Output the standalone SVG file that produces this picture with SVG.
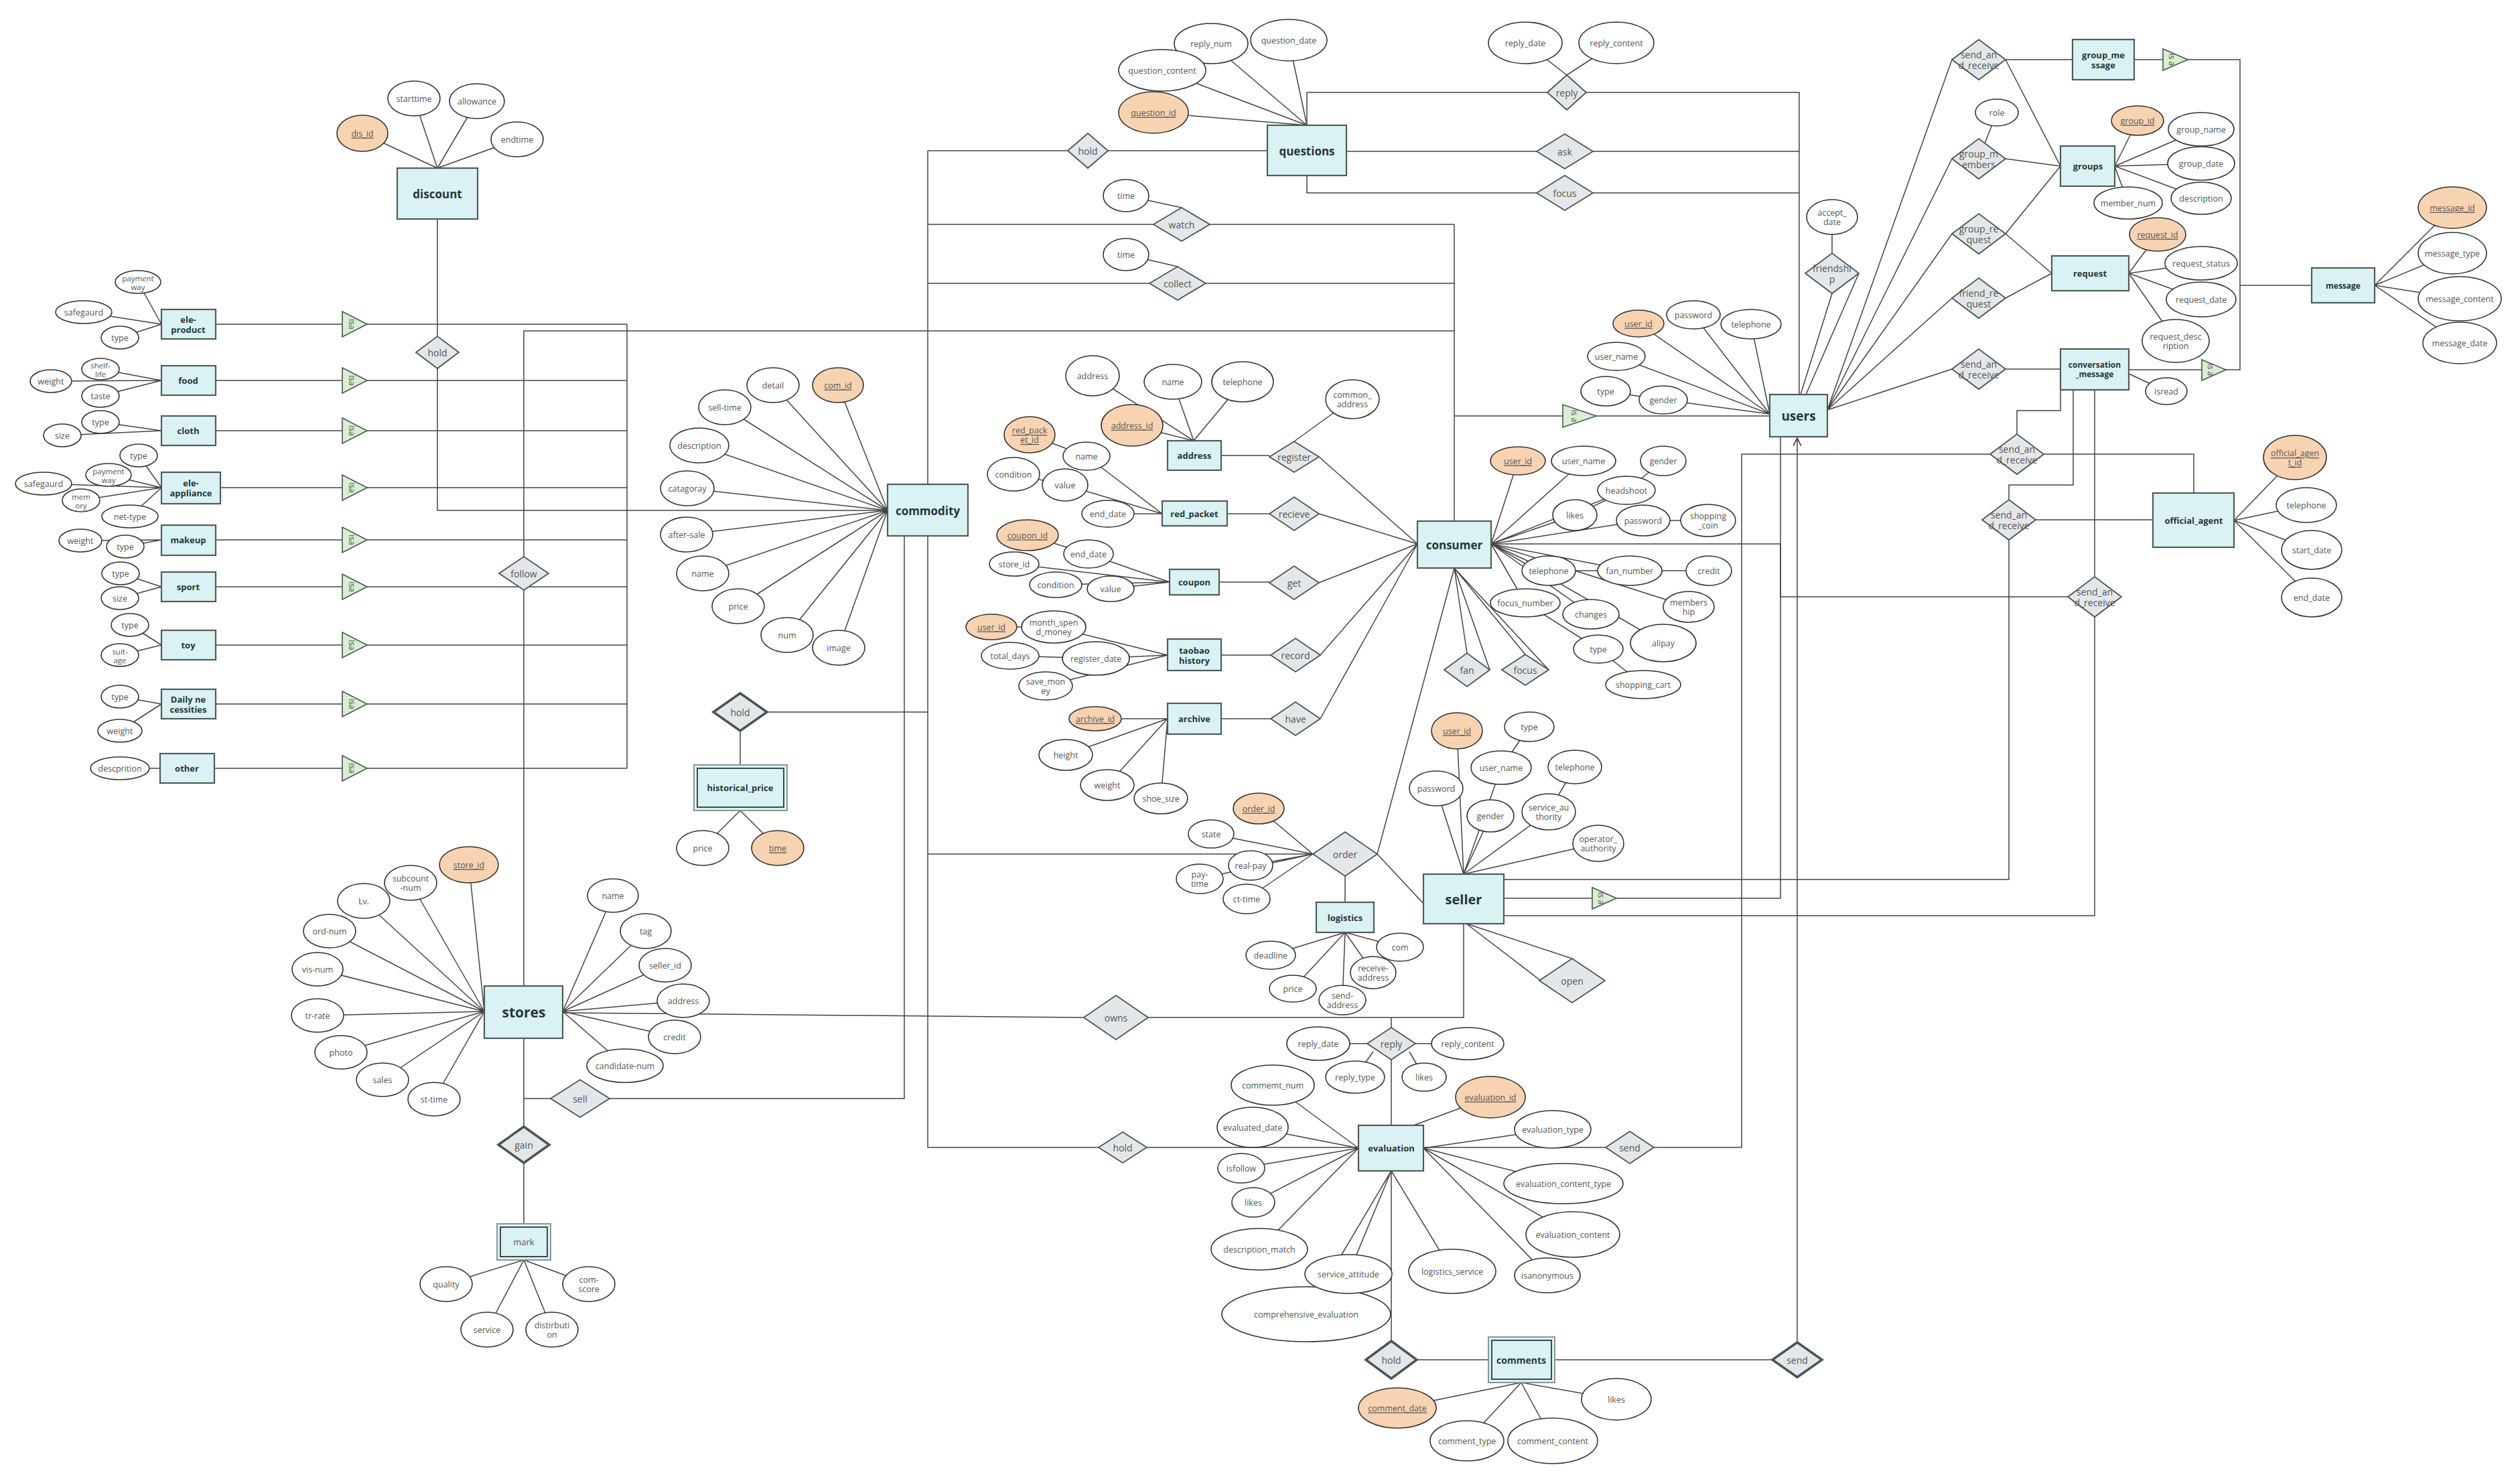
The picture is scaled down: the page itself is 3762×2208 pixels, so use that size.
<svg xmlns="http://www.w3.org/2000/svg" width="3762" height="2208" viewBox="0 0 3762 2208">
<style>
text{font-family:"Open Sans","Noto Sans","Liberation Sans",sans-serif;text-anchor:middle;dominant-baseline:central}
.e{fill:#daf2f3;stroke:#505b5e;stroke-width:2.2}
.w{fill:#daf2f3;stroke:#8a9799;stroke-width:2}
.wi{fill:none;stroke:#3f4a4c;stroke-width:2}
.et{font-weight:bold;fill:#27363a;font-size:13px}
.big{font-size:17px}
.a{fill:#fff;stroke:#333;stroke-width:1.6}
.k{fill:#f7d3b1;stroke:#333;stroke-width:1.6}
.at{font-size:12.5px;fill:#555}
.u{text-decoration:underline}
.r{fill:#e3e7ea;stroke:#4a5356;stroke-width:1.8}
.rb{fill:#e3e7ea;stroke:#4a5356;stroke-width:3.5}
.rt{font-size:14px;fill:#555}
.i{fill:#d8efd1;stroke:#4a5356;stroke-width:1.6}
.it{font-size:12px;fill:#555}
.c{fill:none;stroke:#444;stroke-width:1.5}
</style>
<defs>
<marker id="arr" viewBox="0 0 12 12" refX="11" refY="6" markerWidth="14" markerHeight="14" markerUnits="userSpaceOnUse" orient="auto"><path d="M1,1 L11,6 L1,11" fill="none" stroke="#444" stroke-width="1.5"/></marker>
</defs>
<rect width="3762" height="2208" fill="#fff"/>
<g id="connectors" class="c">
<!-- left attributes -->
<path d="M206 421L241 484M125 466L241 484M179 504L241 484"/>
<path d="M150 551L241 568M76 569L241 568M150 591L241 568"/>
<path d="M150 630L241 643M93 650L241 643"/>
<path d="M207 680L241 728M162 709L241 728M65 722L241 728M121 747L241 728M194 771L241 728"/>
<path d="M120 807L241 806M187 816L241 806"/>
<path d="M180 856L241 876M179 893L241 876"/>
<path d="M194 933L241 963M179 978L241 963"/>
<path d="M179 1040L241 1051M179 1091L241 1051"/>
<path d="M179 1147L239 1147"/>
<!-- isa lines -->
<path d="M322 484H511M548 484H936M322 568H511M548 568H936M322 643H511M548 643H936M329 728H511M548 728H936M322 806H511M548 806H936M322 876H511M548 876H936M322 963H511M548 963H936M322 1051H511M548 1051H936M320 1147H511M548 1147H936M936 484V1147"/>
<!-- discount -->
<path d="M541 199L653 251M618 147L653 251M712 151L653 251M772 208L653 251M653 327V762H1325"/>
<!-- follow -->
<path d="M782 1472V494H2171"/>
<!-- commodity attributes -->
<path d="M1154 575L1325 762M1251 575L1325 762M1082 608L1325 762M1044 665L1325 762M1026 729L1325 762M1025 798L1325 762M1049 856L1325 762M1102 905L1325 762M1175 948L1325 762M1252 967L1325 762"/>
<path d="M1385 225V723M1385 225H1892M1385 335H2171M1385 423H2171M2171 335V778M1681 292L1764 310M1681 380L1758 398"/>
<path d="M1385 800V1713H2028M1385 1063H1105V1142M1105 1210L1049 1266M1105 1210L1161 1266M1385 1275H1960M1350 800V1640H782"/>
<!-- questions -->
<path d="M1808 65L1951 187M1924 60L1951 187M1735 105L1951 187M1722 168L1951 187"/>
<path d="M1951 187V138H2686V589M2010 226H2686M1951 262V288H2686M2339 112L2277 64M2339 112L2413 64"/>
<!-- users -->
<path d="M2171 621H2333M2383 621H2642"/>
<path d="M2446 483L2642 618M2528 470L2642 618M2614 484L2642 618M2413 532L2642 618M2483 597L2642 618M2397 584L2483 597"/>
<path d="M2735 324V408M2735 438L2688 589M2775 408L2696 589"/>
<path d="M2728 612L2914 89M2728 612L2914 237M2728 612L2914 349M2728 612L2914 445M2728 612L2914 551"/>
<path d="M2994 89H3094M2994 89L3076 248M2981 168L2954 237M2994 237L3076 248M2994 349L3076 248M2994 349L3063 408M2994 445L3063 408M2994 551H3076"/>
<path d="M3186 89H3229M3266 89H3344V552H3323M3178 552H3287M3344 426H3451"/>
<path d="M3191 180L3157 248M3286 193L3157 248M3286 244L3157 248M3286 296L3157 248M3177 303L3157 248"/>
<path d="M3221 350L3178 408M3286 393L3178 408M3286 447L3178 408M3248 509L3178 408M3178 558L3234 584"/>
<path d="M3661 310L3545 426M3661 378L3545 426M3672 446L3545 426M3672 512L3545 426"/>
<!-- official agent / send and receive -->
<path d="M3076 582V613H3011V678M3051 678H3275V736M2971 678H2600V1713H2469M2397 1713H2125"/>
<path d="M3095 582V724H2999V776M3039 776H3214M2999 806V1313H2245"/>
<path d="M3127 582V891M3087 891H2658V812H2226M3127 921V1367H2245"/>
<path d="M2658 652V1341H2413M2245 1341H2377"/>
<path d="M3426 683L3335 777M3443 754L3335 777M3451 821L3335 777M3451 892L3335 777"/>
<path d="M2683 2004V654" marker-end="url(#arr)"/>
<path d="M2321 2030H2646M2115 2030H2222M2077 1748V2002"/>
<!-- consumer relations -->
<path d="M1823 680H1895M1969 682L2116 812M2019 596L1932 659M1832 767H1895M1969 767L2116 812M1820 869H1895M1969 870L2116 812M1823 978H1897M1971 978L2116 812M1823 1073H1897M1971 1073L2116 812"/>
<path d="M1631 561L1782 658M1751 570L1782 658M1855 570L1782 658M1690 635L1782 658"/>
<path d="M1537 649L1622 681M1622 681L1735 767M1513 708L1590 724M1590 724L1735 767M1654 767H1735"/>
<path d="M1534 799L1625 827M1625 827L1746 869M1514 842L1746 869M1576 873L1746 869M1658 879L1746 869"/>
<path d="M1480 936H1573M1573 936L1743 978M1508 979L1636 983M1636 983L1743 978M1561 1024L1743 978"/>
<path d="M1635 1073H1743M1591 1127L1743 1073M1653 1172L1743 1073M1733 1192L1743 1073"/>
<!-- consumer attributes -->
<path d="M2226 812L2266 688M2226 812L2364 688M2226 812L2428 732M2226 812L2351 769M2226 812L2453 777M2226 812L2312 852M2226 812L2433 852M2226 812L2521 906M2226 812L2483 960M2226 812L2277 900M2226 812L2375 917"/>
<path d="M2483 688L2428 732M2428 732L2351 769M2453 777L2550 777M2312 852L2433 852M2433 852L2551 852M2277 900L2386 969M2386 969L2453 1022"/>
<path d="M2171 848L2190 975M2171 848L2224 1000M2171 848L2277 977M2171 848L2312 1000"/>
<!-- order / logistics -->
<path d="M2056 1275L2171 848M2056 1275L2125 1349M2008 1308V1347"/>
<path d="M1879 1207L1960 1275M1808 1245L1960 1275M1867 1292L1960 1275M1791 1312L1960 1275M1861 1342L1960 1275"/>
<path d="M1897 1426L2008 1392M2090 1414L2008 1392M2050 1452L2008 1392M1930 1476L2008 1392M2004 1493L2008 1392"/>
<!-- seller -->
<path d="M2175 1091L2185 1305M2144 1177L2185 1305M2225 1218L2185 1305M2241 1146L2185 1305M2312 1212L2185 1305M2386 1259L2185 1305M2283 1085L2241 1146M2351 1145L2312 1212"/>
<path d="M2189 1379L2300 1464M2189 1379L2347 1431"/>
<path d="M2185 1379V1519H1714M1618 1519L840 1512M2077 1519V1534M2077 1582V1680"/>
<path d="M1968 1558H2041M2113 1558H2191M2050 1570L2023 1608M2104 1570L2126 1608"/>
<!-- evaluation -->
<path d="M1900 1620L2028 1714M1870 1683L2028 1714M1853 1744L2028 1714M1871 1795L2028 1714M1880 1865L2028 1714"/>
<path d="M1950 1962L2077 1748M2013 1902L2077 1748M2168 1898L2077 1748"/>
<path d="M2318 1686L2125 1714M2334 1767L2125 1714M2348 1843L2125 1714M2310 1904L2125 1714M2225 1638L2110 1680"/>
<path d="M2086 2102L2271 2064M2190 2151L2271 2064M2318 2151L2271 2064M2413 2089L2271 2064"/>
<!-- stores -->
<path d="M700 1291L723 1510M613 1318L723 1510M543 1345L723 1510M492 1390L723 1510M474 1447L723 1510M474 1516L723 1510M509 1571L723 1510M571 1612L723 1510M648 1641L723 1510"/>
<path d="M915 1337L840 1510M964 1390L840 1510M993 1441L840 1510M1020 1494L840 1510M1007 1548L840 1510M933 1591L840 1510"/>
<path d="M782 1550V1682M782 1736V1827M666 1917L782 1881M727 1985L782 1881M824 1985L782 1881M879 1917L782 1881"/>
</g>

<!-- ===== relations ===== -->
<g id="r-hold-discount"><polygon class="r" points="621,526 653,502 685,526 653,550"/><text class="rt" x="653" y="526">hold</text></g>
<g id="r-follow"><polygon class="r" points="745,856 782,831 819,856 782,881"/><text class="rt" x="782" y="856">follow</text></g>
<g id="r-hold-question"><polygon class="r" points="1594,225 1624,199 1654,225 1624,251"/><text class="rt" x="1624" y="225">hold</text></g>
<g id="r-watch"><polygon class="r" points="1722,335 1764,310 1806,335 1764,360"/><text class="rt" x="1764" y="335">watch</text></g>
<g id="r-collect"><polygon class="r" points="1716,423 1758,398 1800,423 1758,448"/><text class="rt" x="1758" y="423">collect</text></g>
<g id="r-reply-q"><polygon class="r" points="2310,138 2339,112 2368,138 2339,164"/><text class="rt" x="2339" y="138">reply</text></g>
<g id="r-ask"><polygon class="r" points="2294,226 2336,200 2378,226 2336,252"/><text class="rt" x="2336" y="226">ask</text></g>
<g id="r-focus-q"><polygon class="r" points="2294,288 2336,262 2378,288 2336,314"/><text class="rt" x="2336" y="288">focus</text></g>
<g id="r-friendship"><polygon class="r" points="2695,408 2735,378 2775,408 2735,438"/><text class="rt" x="2735" y="408"><tspan x="2735" dy="-0.55em">friendshi</tspan><tspan x="2735" dy="1.1em">p</tspan></text></g>
<g id="r-sr1"><polygon class="r" points="2914,89 2954,59 2994,89 2954,119"/><text class="rt" x="2954" y="89"><tspan x="2954" dy="-0.55em">send_an</tspan><tspan x="2954" dy="1.1em">d_receive</tspan></text></g>
<g id="r-group-members"><polygon class="r" points="2914,237 2954,207 2994,237 2954,267"/><text class="rt" x="2954" y="237"><tspan x="2954" dy="-0.55em">group_m</tspan><tspan x="2954" dy="1.1em">embers</tspan></text></g>
<g id="r-group-request"><polygon class="r" points="2914,349 2954,319 2994,349 2954,379"/><text class="rt" x="2954" y="349"><tspan x="2954" dy="-0.55em">group_re</tspan><tspan x="2954" dy="1.1em">quest</tspan></text></g>
<g id="r-friend-request"><polygon class="r" points="2914,445 2954,415 2994,445 2954,475"/><text class="rt" x="2954" y="445"><tspan x="2954" dy="-0.55em">friend_re</tspan><tspan x="2954" dy="1.1em">quest</tspan></text></g>
<g id="r-sr2"><polygon class="r" points="2914,551 2954,521 2994,551 2954,581"/><text class="rt" x="2954" y="551"><tspan x="2954" dy="-0.55em">send_an</tspan><tspan x="2954" dy="1.1em">d_receive</tspan></text></g>
<g id="r-sr3"><polygon class="r" points="2971,678 3011,648 3051,678 3011,708"/><text class="rt" x="3011" y="678"><tspan x="3011" dy="-0.55em">send_an</tspan><tspan x="3011" dy="1.1em">d_receive</tspan></text></g>
<g id="r-sr4"><polygon class="r" points="2959,776 2999,746 3039,776 2999,806"/><text class="rt" x="2999" y="776"><tspan x="2999" dy="-0.55em">send_an</tspan><tspan x="2999" dy="1.1em">d_receive</tspan></text></g>
<g id="r-sr5"><polygon class="r" points="3087,891 3127,861 3167,891 3127,921"/><text class="rt" x="3127" y="891"><tspan x="3127" dy="-0.55em">send_an</tspan><tspan x="3127" dy="1.1em">d_receive</tspan></text></g>
<g id="r-register"><polygon class="r" points="1895,682 1932,659 1969,682 1932,705"/><text class="rt" x="1932" y="682">register</text></g>
<g id="r-recieve"><polygon class="r" points="1895,767 1932,742 1969,767 1932,792"/><text class="rt" x="1932" y="767">recieve</text></g>
<g id="r-get"><polygon class="r" points="1895,870 1932,845 1969,870 1932,895"/><text class="rt" x="1932" y="870">get</text></g>
<g id="r-record"><polygon class="r" points="1897,978 1934,953 1971,978 1934,1003"/><text class="rt" x="1934" y="978">record</text></g>
<g id="r-have"><polygon class="r" points="1897,1073 1934,1048 1971,1073 1934,1098"/><text class="rt" x="1934" y="1073">have</text></g>
<g id="r-fan"><polygon class="r" points="2156,1000 2190,975 2224,1000 2190,1025"/><text class="rt" x="2190" y="1000">fan</text></g>
<g id="r-focus-c"><polygon class="r" points="2242,1000 2277,977 2312,1000 2277,1023"/><text class="rt" x="2277" y="1000">focus</text></g>
<g id="r-order"><polygon class="r" points="1960,1275 2008,1242 2056,1275 2008,1308"/><text class="rt" x="2008" y="1275">order</text></g>
<g id="r-open"><polygon class="r" points="2298,1464 2347,1431 2396,1464 2347,1497"/><text class="rt" x="2347" y="1464">open</text></g>
<g id="r-owns"><polygon class="r" points="1618,1519 1666,1486 1714,1519 1666,1552"/><text class="rt" x="1666" y="1519">owns</text></g>
<g id="r-reply-e"><polygon class="r" points="2041,1558 2077,1534 2113,1558 2077,1582"/><text class="rt" x="2077" y="1558">reply</text></g>
<g id="r-hold-eval"><polygon class="r" points="1640,1713 1676,1690 1712,1713 1676,1736"/><text class="rt" x="1676" y="1713">hold</text></g>
<g id="r-send-eval"><polygon class="r" points="2397,1713 2433,1689 2469,1713 2433,1737"/><text class="rt" x="2433" y="1713">send</text></g>
<g id="r-hold-comments"><polygon class="rb" points="2039,2030 2077,2002 2115,2030 2077,2058"/><text class="rt" x="2077" y="2030">hold</text></g>
<g id="r-send-comments"><polygon class="rb" points="2646,2030 2683,2004 2720,2030 2683,2056"/><text class="rt" x="2683" y="2030">send</text></g>
<g id="r-hold-price"><polygon class="rb" points="1065,1063 1105,1035 1145,1063 1105,1091"/><text class="rt" x="1105" y="1063">hold</text></g>
<g id="r-sell"><polygon class="r" points="822,1640 866,1612 910,1640 866,1668"/><text class="rt" x="866" y="1640">sell</text></g>
<g id="r-gain"><polygon class="rb" points="744,1709 782,1682 820,1709 782,1736"/><text class="rt" x="782" y="1709">gain</text></g>

<!-- ===== isa ===== -->
<g id="isa-ele-product"><polygon class="i" points="511,465 511,503 548,484"/><text class="it" transform="translate(525 484) rotate(90)">isa</text></g>
<g id="isa-food"><polygon class="i" points="511,549 511,587 548,568"/><text class="it" transform="translate(525 568) rotate(90)">isa</text></g>
<g id="isa-cloth"><polygon class="i" points="511,624 511,662 548,643"/><text class="it" transform="translate(525 643) rotate(90)">isa</text></g>
<g id="isa-ele-appliance"><polygon class="i" points="511,709 511,747 548,728"/><text class="it" transform="translate(525 728) rotate(90)">isa</text></g>
<g id="isa-makeup"><polygon class="i" points="511,787 511,825 548,806"/><text class="it" transform="translate(525 806) rotate(90)">isa</text></g>
<g id="isa-sport"><polygon class="i" points="511,857 511,895 548,876"/><text class="it" transform="translate(525 876) rotate(90)">isa</text></g>
<g id="isa-toy"><polygon class="i" points="511,944 511,982 548,963"/><text class="it" transform="translate(525 963) rotate(90)">isa</text></g>
<g id="isa-daily"><polygon class="i" points="511,1032 511,1070 548,1051"/><text class="it" transform="translate(525 1051) rotate(90)">isa</text></g>
<g id="isa-other"><polygon class="i" points="511,1128 511,1166 548,1147"/><text class="it" transform="translate(525 1147) rotate(90)">isa</text></g>
<g id="isa-consumer"><polygon class="i" points="2333,604 2333,638 2383,621"/><text class="it" transform="translate(2350 621) rotate(90)">is a</text></g>
<g id="isa-group-message"><polygon class="i" points="3229,73 3229,105 3266,89"/><text class="it" transform="translate(3242 89) rotate(90)">is a</text></g>
<g id="isa-conversation"><polygon class="i" points="3287,537 3287,568 3323,552"/><text class="it" transform="translate(3300 552) rotate(90)">is a</text></g>
<g id="isa-seller"><polygon class="i" points="2377,1325 2377,1357 2413,1341"/><text class="it" transform="translate(2390 1341) rotate(90)">is a</text></g>

<!-- ===== entities ===== -->
<g id="e-discount"><rect class="e" x="593" y="251" width="120" height="76"/><text class="et big" x="653" y="289">discount</text></g>
<g id="e-ele-product"><rect class="e" x="241" y="462" width="81" height="44"/><text class="et" x="281" y="484"><tspan x="281" dy="-0.55em">ele-</tspan><tspan x="281" dy="1.15em">product</tspan></text></g>
<g id="e-food"><rect class="e" x="241" y="546" width="81" height="44"/><text class="et" x="281" y="568">food</text></g>
<g id="e-cloth"><rect class="e" x="241" y="621" width="81" height="44"/><text class="et" x="281" y="643">cloth</text></g>
<g id="e-ele-appliance"><rect class="e" x="241" y="705" width="88" height="47"/><text class="et" x="285" y="728"><tspan x="285" dy="-0.55em">ele-</tspan><tspan x="285" dy="1.15em">appliance</tspan></text></g>
<g id="e-makeup"><rect class="e" x="241" y="784" width="81" height="45"/><text class="et" x="281" y="806">makeup</text></g>
<g id="e-sport"><rect class="e" x="241" y="854" width="81" height="44"/><text class="et" x="281" y="876">sport</text></g>
<g id="e-toy"><rect class="e" x="241" y="941" width="81" height="44"/><text class="et" x="281" y="963">toy</text></g>
<g id="e-daily"><rect class="e" x="241" y="1029" width="81" height="44"/><text class="et" x="281" y="1051"><tspan x="281" dy="-0.55em">Daily ne</tspan><tspan x="281" dy="1.15em">cessities</tspan></text></g>
<g id="e-other"><rect class="e" x="239" y="1125" width="81" height="44"/><text class="et" x="279" y="1147">other</text></g>
<g id="e-commodity"><rect class="e" x="1325" y="723" width="120" height="77"/><text class="et big" x="1385" y="762">commodity</text></g>
<g id="e-historical-price"><rect class="w" x="1036" y="1142" width="139" height="68"/><rect class="wi" x="1041" y="1147" width="129" height="58"/><text class="et" x="1105" y="1176">historical_price</text></g>
<g id="e-questions"><rect class="e" x="1892" y="187" width="118" height="75"/><text class="et big" x="1951" y="225">questions</text></g>
<g id="e-users"><rect class="e" x="2642" y="589" width="86" height="63"/><text class="et" style="font-size:19px" x="2685" y="621">users</text></g>
<g id="e-group-message"><rect class="e" x="3094" y="59" width="92" height="60"/><text class="et" x="3140" y="89"><tspan x="3140" dy="-0.55em">group_me</tspan><tspan x="3140" dy="1.15em">ssage</tspan></text></g>
<g id="e-groups"><rect class="e" x="3076" y="218" width="81" height="60"/><text class="et" x="3117" y="248">groups</text></g>
<g id="e-request"><rect class="e" x="3063" y="382" width="115" height="52"/><text class="et" x="3120" y="408">request</text></g>
<g id="e-conversation-message"><rect class="e" x="3076" y="521" width="102" height="61"/><text class="et" style="font-size:12px" x="3127" y="551"><tspan x="3127" dy="-0.55em">conversation</tspan><tspan x="3127" dy="1.15em">_message</tspan></text></g>
<g id="e-message"><rect class="e" x="3451" y="400" width="94" height="52"/><text class="et" style="font-size:12px" x="3498" y="426">message</text></g>
<g id="e-official-agent"><rect class="e" x="3214" y="736" width="121" height="81"/><text class="et" x="3275" y="777">official_agent</text></g>
<g id="e-address"><rect class="e" x="1743" y="658" width="80" height="44"/><text class="et" x="1783" y="680">address</text></g>
<g id="e-red-packet"><rect class="e" x="1735" y="748" width="97" height="37"/><text class="et" x="1783" y="767">red_packet</text></g>
<g id="e-coupon"><rect class="e" x="1746" y="850" width="74" height="38"/><text class="et" x="1783" y="869">coupon</text></g>
<g id="e-taobao-history"><rect class="e" x="1743" y="954" width="80" height="47"/><text class="et" x="1783" y="978"><tspan x="1783" dy="-0.55em">taobao</tspan><tspan x="1783" dy="1.15em">history</tspan></text></g>
<g id="e-archive"><rect class="e" x="1743" y="1050" width="80" height="46"/><text class="et" x="1783" y="1073">archive</text></g>
<g id="e-consumer"><rect class="e" x="2116" y="778" width="110" height="70"/><text class="et big" x="2171" y="813">consumer</text></g>
<g id="e-seller"><rect class="e" x="2125" y="1305" width="120" height="74"/><text class="et" style="font-size:20px" x="2185" y="1342">seller</text></g>
<g id="e-logistics"><rect class="e" x="1965" y="1347" width="86" height="45"/><text class="et" x="2008" y="1370">logistics</text></g>
<g id="e-evaluation"><rect class="e" x="2028" y="1680" width="97" height="68"/><text class="et" x="2077" y="1714">evaluation</text></g>
<g id="e-comments"><rect class="w" x="2222" y="1996" width="99" height="68"/><rect class="wi" x="2227" y="2001" width="89" height="58"/><text class="et" style="font-size:14px" x="2271" y="2030">comments</text></g>
<g id="e-stores"><rect class="e" x="723" y="1472" width="117" height="78"/><text class="et" style="font-size:21px" x="782" y="1511">stores</text></g>
<g id="e-mark"><rect class="w" x="742" y="1827" width="80" height="54"/><rect class="wi" x="747" y="1832" width="70" height="44"/><text class="at" style="font-size:13px" x="782" y="1854">mark</text></g>

<!-- ===== attributes ===== -->
<g id="a-discount">
<ellipse class="k" cx="541" cy="199" rx="38" ry="27"/><text class="at u" x="541" y="199">dis_id</text>
<ellipse class="a" cx="618" cy="147" rx="39" ry="26"/><text class="at" x="618" y="147">starttime</text>
<ellipse class="a" cx="712" cy="151" rx="41" ry="26"/><text class="at" x="712" y="151">allowance</text>
<ellipse class="a" cx="772" cy="208" rx="39" ry="26"/><text class="at" x="772" y="208">endtime</text>
</g>
<g id="a-left" style="font-size:12px">
<ellipse class="a" cx="206" cy="421" rx="34" ry="17"/><text class="at" x="206" y="421" style="font-size:11.5px"><tspan x="206" dy="-0.5em">payment</tspan><tspan x="206" dy="1.1em">way</tspan></text>
<ellipse class="a" cx="125" cy="466" rx="42" ry="17"/><text class="at" x="125" y="466">safegaurd</text>
<ellipse class="a" cx="179" cy="504" rx="28" ry="17"/><text class="at" x="179" y="504">type</text>
<ellipse class="a" cx="150" cy="551" rx="28" ry="16"/><text class="at" x="150" y="551" style="font-size:11.5px"><tspan x="150" dy="-0.5em">shelf-</tspan><tspan x="150" dy="1.1em">life</tspan></text>
<ellipse class="a" cx="76" cy="569" rx="31" ry="17"/><text class="at" x="76" y="569">weight</text>
<ellipse class="a" cx="150" cy="591" rx="28" ry="17"/><text class="at" x="150" y="591">taste</text>
<ellipse class="a" cx="150" cy="630" rx="28" ry="17"/><text class="at" x="150" y="630">type</text>
<ellipse class="a" cx="93" cy="650" rx="28" ry="17"/><text class="at" x="93" y="650">size</text>
<ellipse class="a" cx="207" cy="680" rx="28" ry="17"/><text class="at" x="207" y="680">type</text>
<ellipse class="a" cx="162" cy="709" rx="34" ry="17"/><text class="at" x="162" y="709" style="font-size:11.5px"><tspan x="162" dy="-0.5em">payment</tspan><tspan x="162" dy="1.1em">way</tspan></text>
<ellipse class="a" cx="65" cy="722" rx="42" ry="17"/><text class="at" x="65" y="722">safegaurd</text>
<ellipse class="a" cx="121" cy="747" rx="28" ry="17"/><text class="at" x="121" y="747" style="font-size:11.5px"><tspan x="121" dy="-0.5em">mem</tspan><tspan x="121" dy="1.1em">ory</tspan></text>
<ellipse class="a" cx="194" cy="771" rx="42" ry="17"/><text class="at" x="194" y="771">net-type</text>
<ellipse class="a" cx="120" cy="807" rx="32" ry="17"/><text class="at" x="120" y="807">weight</text>
<ellipse class="a" cx="187" cy="816" rx="28" ry="17"/><text class="at" x="187" y="816">type</text>
<ellipse class="a" cx="180" cy="856" rx="28" ry="17"/><text class="at" x="180" y="856">type</text>
<ellipse class="a" cx="179" cy="893" rx="28" ry="17"/><text class="at" x="179" y="893">size</text>
<ellipse class="a" cx="194" cy="933" rx="28" ry="17"/><text class="at" x="194" y="933">type</text>
<ellipse class="a" cx="179" cy="978" rx="28" ry="17"/><text class="at" x="179" y="978" style="font-size:11.5px"><tspan x="179" dy="-0.5em">suit-</tspan><tspan x="179" dy="1.1em">age</tspan></text>
<ellipse class="a" cx="179" cy="1040" rx="28" ry="17"/><text class="at" x="179" y="1040">type</text>
<ellipse class="a" cx="179" cy="1091" rx="33" ry="17"/><text class="at" x="179" y="1091">weight</text>
<ellipse class="a" cx="179" cy="1147" rx="44" ry="17"/><text class="at" x="179" y="1147">descprition</text>
</g>
<g id="a-commodity">
<ellipse class="a" cx="1154" cy="575" rx="39" ry="26"/><text class="at" x="1154" y="575">detail</text>
<ellipse class="k" cx="1251" cy="575" rx="38" ry="26"/><text class="at u" x="1251" y="575">com_id</text>
<ellipse class="a" cx="1082" cy="608" rx="39" ry="26"/><text class="at" x="1082" y="608">sell-time</text>
<ellipse class="a" cx="1044" cy="665" rx="44" ry="26"/><text class="at" x="1044" y="665">description</text>
<ellipse class="a" cx="1026" cy="729" rx="40" ry="26"/><text class="at" x="1026" y="729">catagoray</text>
<ellipse class="a" cx="1025" cy="798" rx="39" ry="26"/><text class="at" x="1025" y="798">after-sale</text>
<ellipse class="a" cx="1049" cy="856" rx="39" ry="26"/><text class="at" x="1049" y="856">name</text>
<ellipse class="a" cx="1102" cy="905" rx="39" ry="26"/><text class="at" x="1102" y="905">price</text>
<ellipse class="a" cx="1175" cy="948" rx="39" ry="26"/><text class="at" x="1175" y="948">num</text>
<ellipse class="a" cx="1252" cy="967" rx="39" ry="26"/><text class="at" x="1252" y="967">image</text>
</g>
<g id="a-historical-price">
<ellipse class="a" cx="1049" cy="1266" rx="39" ry="26"/><text class="at" x="1049" y="1266">price</text>
<ellipse class="k" cx="1161" cy="1266" rx="39" ry="26"/><text class="at u" x="1161" y="1266">time</text>
</g>
<g id="a-questions">
<ellipse class="a" cx="1808" cy="65" rx="55" ry="30"/><text class="at" x="1808" y="65">reply_num</text>
<ellipse class="a" cx="1924" cy="60" rx="57" ry="31"/><text class="at" x="1924" y="60">question_date</text>
<ellipse class="a" cx="1735" cy="105" rx="65" ry="31"/><text class="at" x="1735" y="105">question_content</text>
<ellipse class="k" cx="1722" cy="168" rx="52" ry="31"/><text class="at u" x="1722" y="168">question_id</text>
<ellipse class="a" cx="1681" cy="292" rx="34" ry="24"/><text class="at" x="1681" y="292">time</text>
<ellipse class="a" cx="1681" cy="380" rx="34" ry="24"/><text class="at" x="1681" y="380">time</text>
<ellipse class="a" cx="2277" cy="64" rx="55" ry="31"/><text class="at" x="2277" y="64">reply_date</text>
<ellipse class="a" cx="2413" cy="64" rx="56" ry="31"/><text class="at" x="2413" y="64">reply_content</text>
</g>
<g id="a-users">
<ellipse class="k" cx="2446" cy="483" rx="38" ry="20"/><text class="at u" x="2446" y="483">user_id</text>
<ellipse class="a" cx="2528" cy="470" rx="40" ry="21"/><text class="at" x="2528" y="470">password</text>
<ellipse class="a" cx="2614" cy="484" rx="45" ry="22"/><text class="at" x="2614" y="484">telephone</text>
<ellipse class="a" cx="2413" cy="532" rx="43" ry="21"/><text class="at" x="2413" y="532">user_name</text>
<ellipse class="a" cx="2397" cy="584" rx="37" ry="22"/><text class="at" x="2397" y="584">type</text>
<ellipse class="a" cx="2483" cy="597" rx="36" ry="21"/><text class="at" x="2483" y="597">gender</text>
<ellipse class="a" cx="2735" cy="324" rx="38" ry="26"/><text class="at" x="2735" y="324"><tspan x="2735" dy="-0.55em">accept_</tspan><tspan x="2735" dy="1.1em">date</tspan></text>
</g>
<g id="a-groups">
<ellipse class="a" cx="2981" cy="168" rx="32" ry="20"/><text class="at" x="2981" y="168">role</text>
<ellipse class="k" cx="3191" cy="180" rx="39" ry="22"/><text class="at u" x="3191" y="180">group_id</text>
<ellipse class="a" cx="3286" cy="193" rx="49" ry="25"/><text class="at" x="3286" y="193">group_name</text>
<ellipse class="a" cx="3286" cy="244" rx="50" ry="25"/><text class="at" x="3286" y="244">group_date</text>
<ellipse class="a" cx="3286" cy="296" rx="45" ry="24"/><text class="at" x="3286" y="296">description</text>
<ellipse class="a" cx="3177" cy="303" rx="51" ry="24"/><text class="at" x="3177" y="303">member_num</text>
</g>
<g id="a-request">
<ellipse class="k" cx="3221" cy="350" rx="42" ry="25"/><text class="at u" x="3221" y="350">request_id</text>
<ellipse class="a" cx="3286" cy="393" rx="54" ry="25"/><text class="at" x="3286" y="393">request_status</text>
<ellipse class="a" cx="3286" cy="447" rx="52" ry="26"/><text class="at" x="3286" y="447">request_date</text>
<ellipse class="a" cx="3248" cy="509" rx="50" ry="32"/><text class="at" x="3248" y="509"><tspan x="3248" dy="-0.55em">request_desc</tspan><tspan x="3248" dy="1.1em">ription</tspan></text>
<ellipse class="a" cx="3234" cy="584" rx="31" ry="20"/><text class="at" x="3234" y="584">isread</text>
</g>
<g id="a-message">
<ellipse class="k" cx="3661" cy="310" rx="51" ry="31"/><text class="at u" x="3661" y="310">message_id</text>
<ellipse class="a" cx="3661" cy="378" rx="51" ry="31"/><text class="at" x="3661" y="378">message_type</text>
<ellipse class="a" cx="3672" cy="446" rx="62" ry="33"/><text class="at" x="3672" y="446">message_content</text>
<ellipse class="a" cx="3672" cy="512" rx="55" ry="31"/><text class="at" x="3672" y="512">message_date</text>
</g>
<g id="a-official-agent">
<ellipse class="k" cx="3426" cy="683" rx="47" ry="33"/><text class="at u" x="3426" y="683"><tspan x="3426" dy="-0.55em">official_agen</tspan><tspan x="3426" dy="1.1em">t_id</tspan></text>
<ellipse class="a" cx="3443" cy="754" rx="45" ry="26"/><text class="at" x="3443" y="754">telephone</text>
<ellipse class="a" cx="3451" cy="821" rx="45" ry="29"/><text class="at" x="3451" y="821">start_date</text>
<ellipse class="a" cx="3451" cy="892" rx="45" ry="29"/><text class="at" x="3451" y="892">end_date</text>
</g>
<g id="a-address">
<ellipse class="a" cx="2019" cy="596" rx="40" ry="29"/><text class="at" x="2019" y="596"><tspan x="2019" dy="-0.55em">common_</tspan><tspan x="2019" dy="1.1em">address</tspan></text>
<ellipse class="a" cx="1631" cy="561" rx="40" ry="30"/><text class="at" x="1631" y="561">address</text>
<ellipse class="a" cx="1751" cy="570" rx="43" ry="26"/><text class="at" x="1751" y="570">name</text>
<ellipse class="a" cx="1855" cy="570" rx="46" ry="30"/><text class="at" x="1855" y="570">telephone</text>
<ellipse class="k" cx="1690" cy="635" rx="46" ry="31"/><text class="at u" x="1690" y="635">address_id</text>
</g>
<g id="a-red-packet">
<ellipse class="k" cx="1537" cy="649" rx="38" ry="27"/><text class="at u" x="1537" y="649"><tspan x="1537" dy="-0.55em">red_pack</tspan><tspan x="1537" dy="1.1em">et_id</tspan></text>
<ellipse class="a" cx="1622" cy="681" rx="35" ry="21"/><text class="at" x="1622" y="681">name</text>
<ellipse class="a" cx="1513" cy="708" rx="39" ry="25"/><text class="at" x="1513" y="708">condition</text>
<ellipse class="a" cx="1590" cy="724" rx="34" ry="24"/><text class="at" x="1590" y="724">value</text>
<ellipse class="a" cx="1654" cy="767" rx="39" ry="20"/><text class="at" x="1654" y="767">end_date</text>
</g>
<g id="a-coupon">
<ellipse class="k" cx="1534" cy="799" rx="46" ry="23"/><text class="at u" x="1534" y="799">coupon_id</text>
<ellipse class="a" cx="1625" cy="827" rx="37" ry="21"/><text class="at" x="1625" y="827">end_date</text>
<ellipse class="a" cx="1514" cy="842" rx="37" ry="18"/><text class="at" x="1514" y="842">store_id</text>
<ellipse class="a" cx="1576" cy="873" rx="39" ry="19"/><text class="at" x="1576" y="873">condition</text>
<ellipse class="a" cx="1658" cy="879" rx="35" ry="19"/><text class="at" x="1658" y="879">value</text>
</g>
<g id="a-taobao-history">
<ellipse class="k" cx="1480" cy="936" rx="38" ry="19"/><text class="at u" x="1480" y="936">user_id</text>
<ellipse class="a" cx="1573" cy="936" rx="48" ry="24"/><text class="at" x="1573" y="936"><tspan x="1573" dy="-0.55em">month_spen</tspan><tspan x="1573" dy="1.1em">d_money</tspan></text>
<ellipse class="a" cx="1508" cy="979" rx="43" ry="20"/><text class="at" x="1508" y="979">total_days</text>
<ellipse class="a" cx="1636" cy="983" rx="50" ry="25"/><text class="at" x="1636" y="983">register_date</text>
<ellipse class="a" cx="1561" cy="1024" rx="40" ry="21"/><text class="at" x="1561" y="1024"><tspan x="1561" dy="-0.55em">save_mon</tspan><tspan x="1561" dy="1.1em">ey</tspan></text>
</g>
<g id="a-archive">
<ellipse class="k" cx="1635" cy="1073" rx="39" ry="18"/><text class="at u" x="1635" y="1073">archive_id</text>
<ellipse class="a" cx="1591" cy="1127" rx="40" ry="23"/><text class="at" x="1591" y="1127">height</text>
<ellipse class="a" cx="1653" cy="1172" rx="40" ry="23"/><text class="at" x="1653" y="1172">weight</text>
<ellipse class="a" cx="1733" cy="1192" rx="40" ry="23"/><text class="at" x="1733" y="1192">shoe_size</text>
</g>
<g id="a-consumer">
<ellipse class="k" cx="2266" cy="688" rx="41" ry="21"/><text class="at u" x="2266" y="688">user_id</text>
<ellipse class="a" cx="2364" cy="688" rx="48" ry="22"/><text class="at" x="2364" y="688">user_name</text>
<ellipse class="a" cx="2483" cy="688" rx="34" ry="22"/><text class="at" x="2483" y="688">gender</text>
<ellipse class="a" cx="2428" cy="732" rx="43" ry="21"/><text class="at" x="2428" y="732">headshoot</text>
<ellipse class="a" cx="2351" cy="769" rx="33" ry="23"/><text class="at" x="2351" y="769">likes</text>
<ellipse class="a" cx="2453" cy="777" rx="40" ry="23"/><text class="at" x="2453" y="777">password</text>
<ellipse class="a" cx="2550" cy="777" rx="41" ry="24"/><text class="at" x="2550" y="777"><tspan x="2550" dy="-0.55em">shopping</tspan><tspan x="2550" dy="1.1em">_coin</tspan></text>
<ellipse class="a" cx="2312" cy="852" rx="40" ry="22"/><text class="at" x="2312" y="852">telephone</text>
<ellipse class="a" cx="2433" cy="852" rx="48" ry="22"/><text class="at" x="2433" y="852">fan_number</text>
<ellipse class="a" cx="2551" cy="852" rx="34" ry="22"/><text class="at" x="2551" y="852">credit</text>
<ellipse class="a" cx="2277" cy="900" rx="52" ry="21"/><text class="at" x="2277" y="900">focus_number</text>
<ellipse class="a" cx="2375" cy="917" rx="42" ry="22"/><text class="at" x="2375" y="917">changes</text>
<ellipse class="a" cx="2521" cy="906" rx="38" ry="23"/><text class="at" x="2521" y="906"><tspan x="2521" dy="-0.55em">members</tspan><tspan x="2521" dy="1.1em">hip</tspan></text>
<ellipse class="a" cx="2386" cy="969" rx="37" ry="21"/><text class="at" x="2386" y="969">type</text>
<ellipse class="a" cx="2483" cy="960" rx="49" ry="28"/><text class="at" x="2483" y="960">alipay</text>
<ellipse class="a" cx="2453" cy="1022" rx="56" ry="21"/><text class="at" x="2453" y="1022">shopping_cart</text>
</g>
<g id="a-seller">
<ellipse class="k" cx="2175" cy="1091" rx="38" ry="27"/><text class="at u" x="2175" y="1091">user_id</text>
<ellipse class="a" cx="2283" cy="1085" rx="37" ry="22"/><text class="at" x="2283" y="1085">type</text>
<ellipse class="a" cx="2241" cy="1146" rx="45" ry="25"/><text class="at" x="2241" y="1146">user_name</text>
<ellipse class="a" cx="2351" cy="1145" rx="40" ry="25"/><text class="at" x="2351" y="1145">telephone</text>
<ellipse class="a" cx="2144" cy="1177" rx="40" ry="26"/><text class="at" x="2144" y="1177">password</text>
<ellipse class="a" cx="2225" cy="1218" rx="35" ry="24"/><text class="at" x="2225" y="1218">gender</text>
<ellipse class="a" cx="2312" cy="1212" rx="40" ry="27"/><text class="at" x="2312" y="1212"><tspan x="2312" dy="-0.55em">service_au</tspan><tspan x="2312" dy="1.1em">thority</tspan></text>
<ellipse class="a" cx="2386" cy="1259" rx="38" ry="27"/><text class="at" x="2386" y="1259"><tspan x="2386" dy="-0.55em">operator_</tspan><tspan x="2386" dy="1.1em">authority</tspan></text>
</g>
<g id="a-order">
<ellipse class="k" cx="1879" cy="1207" rx="38" ry="23"/><text class="at u" x="1879" y="1207">order_id</text>
<ellipse class="a" cx="1808" cy="1245" rx="34" ry="21"/><text class="at" x="1808" y="1245">state</text>
<ellipse class="a" cx="1867" cy="1292" rx="33" ry="22"/><text class="at" x="1867" y="1292">real-pay</text>
<ellipse class="a" cx="1791" cy="1312" rx="35" ry="22"/><text class="at" x="1791" y="1312"><tspan x="1791" dy="-0.55em">pay-</tspan><tspan x="1791" dy="1.1em">time</tspan></text>
<ellipse class="a" cx="1861" cy="1342" rx="35" ry="22"/><text class="at" x="1861" y="1342">ct-time</text>
</g>
<g id="a-logistics">
<ellipse class="a" cx="1897" cy="1426" rx="37" ry="21"/><text class="at" x="1897" y="1426">deadline</text>
<ellipse class="a" cx="2090" cy="1414" rx="35" ry="21"/><text class="at" x="2090" y="1414">com</text>
<ellipse class="a" cx="2050" cy="1452" rx="34" ry="24"/><text class="at" x="2050" y="1452"><tspan x="2050" dy="-0.55em">receive-</tspan><tspan x="2050" dy="1.1em">address</tspan></text>
<ellipse class="a" cx="1930" cy="1476" rx="35" ry="20"/><text class="at" x="1930" y="1476">price</text>
<ellipse class="a" cx="2004" cy="1493" rx="35" ry="22"/><text class="at" x="2004" y="1493"><tspan x="2004" dy="-0.55em">send-</tspan><tspan x="2004" dy="1.1em">address</tspan></text>
</g>
<g id="a-reply">
<ellipse class="a" cx="1968" cy="1558" rx="47" ry="25"/><text class="at" x="1968" y="1558">reply_date</text>
<ellipse class="a" cx="2191" cy="1558" rx="54" ry="24"/><text class="at" x="2191" y="1558">reply_content</text>
<ellipse class="a" cx="2023" cy="1608" rx="44" ry="24"/><text class="at" x="2023" y="1608">reply_type</text>
<ellipse class="a" cx="2126" cy="1608" rx="33" ry="21"/><text class="at" x="2126" y="1608">likes</text>
</g>
<g id="a-evaluation">
<ellipse class="a" cx="1900" cy="1620" rx="62" ry="30"/><text class="at" x="1900" y="1620">commemt_num</text>
<ellipse class="a" cx="1870" cy="1683" rx="53" ry="30"/><text class="at" x="1870" y="1683">evaluated_date</text>
<ellipse class="a" cx="1853" cy="1744" rx="35" ry="22"/><text class="at" x="1853" y="1744">isfollow</text>
<ellipse class="a" cx="1871" cy="1795" rx="32" ry="22"/><text class="at" x="1871" y="1795">likes</text>
<ellipse class="a" cx="1880" cy="1865" rx="72" ry="31"/><text class="at" x="1880" y="1865">description_match</text>
<ellipse class="a" cx="1950" cy="1962" rx="126" ry="41"/><text class="at" x="1950" y="1962">comprehensive_evaluation</text>
<ellipse class="a" cx="2013" cy="1902" rx="65" ry="29"/><text class="at" x="2013" y="1902">service_attitude</text>
<ellipse class="a" cx="2168" cy="1898" rx="65" ry="33"/><text class="at" x="2168" y="1898">logistics_service</text>
<ellipse class="a" cx="2310" cy="1904" rx="49" ry="26"/><text class="at" x="2310" y="1904">isanonymous</text>
<ellipse class="a" cx="2348" cy="1843" rx="70" ry="34"/><text class="at" x="2348" y="1843">evaluation_content</text>
<ellipse class="a" cx="2334" cy="1767" rx="89" ry="30"/><text class="at" x="2334" y="1767">evaluation_content_type</text>
<ellipse class="a" cx="2318" cy="1686" rx="57" ry="28"/><text class="at" x="2318" y="1686">evaluation_type</text>
<ellipse class="k" cx="2225" cy="1638" rx="52" ry="31"/><text class="at u" x="2225" y="1638">evaluation_id</text>
</g>
<g id="a-comments">
<ellipse class="k" cx="2086" cy="2102" rx="58" ry="30"/><text class="at u" x="2086" y="2102">comment_date</text>
<ellipse class="a" cx="2190" cy="2151" rx="55" ry="30"/><text class="at" x="2190" y="2151">comment_type</text>
<ellipse class="a" cx="2318" cy="2151" rx="67" ry="34"/><text class="at" x="2318" y="2151">comment_content</text>
<ellipse class="a" cx="2413" cy="2089" rx="52" ry="31"/><text class="at" x="2413" y="2089">likes</text>
</g>
<g id="a-stores">
<ellipse class="k" cx="700" cy="1291" rx="44" ry="27"/><text class="at u" x="700" y="1291">store_id</text>
<ellipse class="a" cx="613" cy="1318" rx="39" ry="26"/><text class="at" x="613" y="1318"><tspan x="613" dy="-0.55em">subcount</tspan><tspan x="613" dy="1.1em">-num</tspan></text>
<ellipse class="a" cx="543" cy="1345" rx="39" ry="26"/><text class="at" x="543" y="1345">Lv.</text>
<ellipse class="a" cx="492" cy="1390" rx="39" ry="25"/><text class="at" x="492" y="1390">ord-num</text>
<ellipse class="a" cx="474" cy="1447" rx="38" ry="25"/><text class="at" x="474" y="1447">vis-num</text>
<ellipse class="a" cx="474" cy="1516" rx="39" ry="25"/><text class="at" x="474" y="1516">tr-rate</text>
<ellipse class="a" cx="509" cy="1571" rx="39" ry="25"/><text class="at" x="509" y="1571">photo</text>
<ellipse class="a" cx="571" cy="1612" rx="39" ry="25"/><text class="at" x="571" y="1612">sales</text>
<ellipse class="a" cx="648" cy="1641" rx="39" ry="25"/><text class="at" x="648" y="1641">st-time</text>
<ellipse class="a" cx="915" cy="1337" rx="38" ry="25"/><text class="at" x="915" y="1337">name</text>
<ellipse class="a" cx="964" cy="1390" rx="38" ry="26"/><text class="at" x="964" y="1390">tag</text>
<ellipse class="a" cx="993" cy="1441" rx="39" ry="25"/><text class="at" x="993" y="1441">seller_id</text>
<ellipse class="a" cx="1020" cy="1494" rx="39" ry="25"/><text class="at" x="1020" y="1494">address</text>
<ellipse class="a" cx="1007" cy="1548" rx="39" ry="25"/><text class="at" x="1007" y="1548">credit</text>
<ellipse class="a" cx="933" cy="1591" rx="57" ry="25"/><text class="at" x="933" y="1591">candidate-num</text>
</g>
<g id="a-mark">
<ellipse class="a" cx="666" cy="1917" rx="39" ry="26"/><text class="at" x="666" y="1917">quality</text>
<ellipse class="a" cx="727" cy="1985" rx="39" ry="26"/><text class="at" x="727" y="1985">service</text>
<ellipse class="a" cx="824" cy="1985" rx="39" ry="26"/><text class="at" x="824" y="1985"><tspan x="824" dy="-0.55em">distirbuti</tspan><tspan x="824" dy="1.1em">on</tspan></text>
<ellipse class="a" cx="879" cy="1917" rx="39" ry="26"/><text class="at" x="879" y="1917"><tspan x="879" dy="-0.55em">com-</tspan><tspan x="879" dy="1.1em">score</tspan></text>
</g>
</svg>
